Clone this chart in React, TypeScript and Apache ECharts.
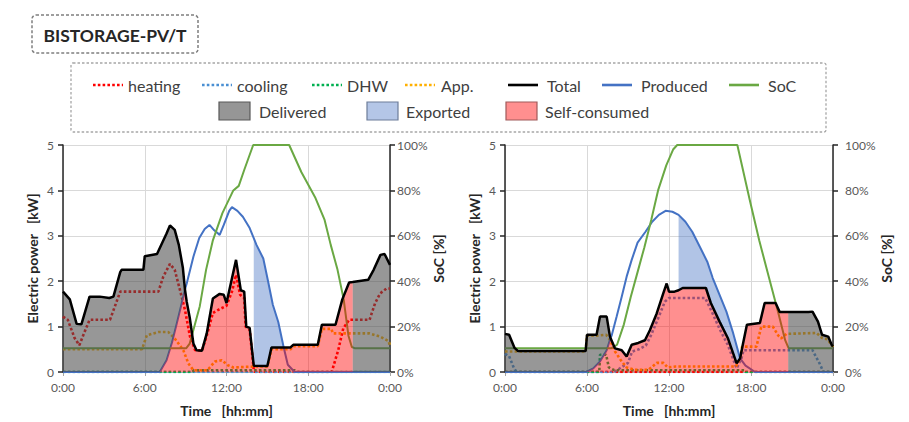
import React, { useEffect, useRef } from "react";
import * as echarts from "echarts";

type P = [number, number];

const FONT = "Lato, 'Liberation Sans', sans-serif";

// ---------- LEFT chart (hours, kW / %) ----------
const L_total: P[] = [
  [0, 1.77], [0.5, 1.6], [1.0, 1.06], [1.35, 1.05], [1.95, 1.66], [2.7, 1.66], [3.4, 1.63], [3.7, 1.66],
  [4.2, 2.2], [4.3, 2.25], [5.9, 2.25], [6.0, 2.55], [6.9, 2.6], [7.6, 3.05], [7.85, 3.23], [8.2, 3.13],
  [8.5, 2.8], [8.8, 2.29], [8.95, 1.82], [9.08, 1.55], [9.3, 1.2], [9.57, 0.63], [9.8, 0.48], [10.2, 0.47],
  [10.55, 0.85], [11.0, 1.62], [11.5, 1.72], [11.8, 1.7], [12.0, 1.52], [12.7, 2.47], [13.05, 1.8],
  [13.3, 1.77], [13.45, 1.0], [13.7, 0.97], [14.0, 0.14], [15.0, 0.13], [15.3, 0.54], [16.2, 0.54],
  [16.7, 0.54], [16.9, 0.6], [18.7, 0.6], [19.0, 1.04], [20.0, 1.04], [20.5, 1.6], [21.0, 1.97],
  [21.26, 1.98], [22.4, 2.03], [22.8, 2.25], [23.3, 2.58], [23.6, 2.6], [24, 2.36],
];
const L_produced: P[] = [
  [0, 0], [7.1, 0], [7.6, 0.26], [8.0, 0.65], [8.35, 1.07], [8.7, 1.5], [8.95, 1.82], [9.08, 1.95],
  [9.57, 2.54], [10.0, 2.95], [10.4, 3.15], [10.75, 3.24], [11.1, 3.12], [11.5, 3.02], [11.8, 3.24],
  [12.2, 3.55], [12.4, 3.63], [12.8, 3.55], [13.2, 3.42], [13.7, 3.17], [14.0, 2.95], [14.2, 2.8],
  [14.7, 2.5], [15.05, 2.0], [15.4, 1.48], [15.8, 1.1], [16.2, 0.54], [16.5, 0.16], [17.0, 0], [24, 0],
];
const L_soc: P[] = [
  [0, 10.5], [9.05, 10.5], [9.3, 12.5], [9.57, 18.5], [10.04, 29], [10.5, 45], [11.0, 58], [11.7, 70],
  [12.5, 80], [12.9, 82], [13.3, 89], [13.96, 100], [16.6, 100], [17.5, 88], [18.5, 77], [19.2, 67],
  [19.65, 56], [20.15, 45], [20.6, 32], [20.95, 16], [21.2, 11], [21.4, 10.5], [24, 10.5],
];
const L_heating: P[] = [
  [0, 1.22], [0.35, 1.15], [0.85, 0.75], [1.2, 0.59], [1.5, 0.82], [1.95, 1.15], [3.45, 1.15], [4.2, 1.77],
  [7.0, 1.77], [7.36, 2.1], [7.85, 2.38], [8.2, 2.25], [8.59, 1.8], [8.95, 1.37], [9.32, 0.78], [9.7, 0.48],
  [10.2, 0.47], [10.55, 0.8], [11.0, 1.3], [11.4, 1.37], [12.0, 1.46], [12.4, 1.77], [12.7, 2.14],
  [13.0, 1.7], [13.3, 1.63], [13.4, 1.0], [13.7, 0.93], [14.0, 0.05], [14.1, 0], [19.72, 0], [20.2, 0.48],
  [20.57, 0.96], [21.0, 1.15], [22.5, 1.15], [22.9, 1.51], [23.27, 1.73], [23.75, 1.84], [24, 1.84],
];
const L_cooling: P[] = [[0, 0], [24, 0]];
const L_dhw: P[] = [[0, 0], [9.5, 0], [9.6, 0.04], [17.0, 0.04], [17.1, 0], [24, 0]];
const L_app: P[] = [
  [0, 0.5], [5.8, 0.5], [6.15, 0.81], [7.0, 0.88], [7.73, 0.88], [8.2, 0.74], [8.83, 0.48], [9.2, 0.19],
  [9.57, 0.04], [10.6, 0.04], [11.15, 0.23], [11.65, 0.26], [12.1, 0.15], [12.5, 0.1], [14.0, 0.12],
  [15.0, 0.12], [15.3, 0.5], [16.7, 0.5], [16.9, 0.57], [18.7, 0.57], [19.0, 0.95], [19.7, 0.95],
  [19.8, 0.85], [22.5, 0.85], [23.27, 0.78], [23.9, 0.68], [24, 0.56],
];
// times where the energy flows change (pv start, pv = load, export start/end, battery empty)
const L_breaks = { pvStart: 7.1, cross: 8.95, exportStart: 14.0, exportEnd: 16.2, battEmpty: 21.26 };

// ---------- RIGHT chart ----------
const R_total: P[] = [
  [0, 0.84], [0.3, 0.82], [0.7, 0.53], [0.96, 0.46], [5.9, 0.46], [6.0, 0.82], [6.7, 0.82], [6.95, 1.22],
  [7.44, 1.22], [7.68, 0.78], [7.72, 0.75], [8.05, 0.52], [8.54, 0.48], [8.9, 0.34], [9.27, 0.6],
  [9.75, 0.64], [10.24, 0.7], [10.6, 0.92], [11.1, 1.29], [11.58, 1.73], [11.83, 1.95], [12.0, 1.77],
  [12.4, 1.77], [12.7, 1.8], [13.0, 1.85], [14.7, 1.85], [15.06, 1.52], [15.7, 1.11], [16.3, 0.75],
  [16.95, 0.19], [17.2, 0.3], [17.4, 0.6], [17.7, 1.04], [18.65, 1.08], [19.0, 1.52], [19.8, 1.52],
  [20.1, 1.32], [20.72, 1.32], [22.2, 1.32], [22.5, 1.33], [22.9, 1.11], [23.2, 0.82], [23.65, 0.78],
  [23.9, 0.6], [24, 0.56],
];
const R_produced: P[] = [
  [0, 0], [5.95, 0], [6.46, 0.08], [6.95, 0.23], [7.44, 0.48], [7.72, 0.75], [7.8, 0.8], [8.17, 1.22],
  [8.54, 1.66], [8.9, 2.1], [9.27, 2.47], [9.7, 2.85], [10.28, 3.09], [10.77, 3.31], [11.26, 3.46],
  [11.75, 3.55], [12.25, 3.53], [12.7, 3.46], [13.2, 3.31], [13.7, 3.09], [14.3, 2.73], [14.8, 2.43],
  [15.2, 2.07], [15.7, 1.7], [16.2, 1.33], [16.7, 0.85], [17.2, 0.3], [17.6, 0.14], [18.3, 0], [24, 0],
];
const R_soc: P[] = [
  [0, 10.5], [7.8, 10.5], [8.2, 12], [8.7, 21], [9.2, 33], [9.7, 44], [10.2, 55], [10.7, 67], [11.2, 80],
  [11.8, 91], [12.3, 98], [12.6, 100], [17.0, 100], [17.9, 76], [18.6, 58], [19.3, 42], [20.0, 26],
  [20.5, 14], [20.75, 10.5], [24, 10.5],
];
const R_heating: P[] = [[0, 0], [24, 0]];
const R_cooling: P[] = [
  [0, 0.4], [0.3, 0.35], [0.7, 0.05], [0.96, 0], [8.0, 0], [8.5, 0.1], [9.0, 0.2], [9.3, 0.45], [9.8, 0.5],
  [10.3, 0.58], [10.7, 0.82], [11.2, 1.18], [11.7, 1.55], [12.0, 1.63], [14.65, 1.63], [15.1, 1.35],
  [15.7, 0.95], [16.3, 0.6], [16.95, 0.08], [17.3, 0.3], [17.45, 0.48], [22.5, 0.48], [23.0, 0.2], [23.3, 0],
  [24, 0],
];
const R_dhw: P[] = [[0, 0], [6.9, 0], [6.95, 0.38], [7.4, 0.38], [7.6, 0.1], [8.0, 0.04], [17.5, 0.04], [17.6, 0], [24, 0]];
const R_app: P[] = [
  [0, 0.45], [5.9, 0.45], [6.0, 0.8], [6.7, 0.8], [7.4, 0.82], [7.7, 0.7], [8.05, 0.45], [8.5, 0.25],
  [8.9, 0.1], [9.5, 0.05], [10.5, 0.05], [10.9, 0.15], [11.1, 0.2], [11.6, 0.2], [11.9, 0.1], [12.5, 0.12],
  [16.9, 0.12], [17.2, 0.3], [17.35, 0.56], [18.4, 0.56], [18.75, 1.0], [19.6, 1.0], [20.0, 0.8],
  [20.2, 0.74], [20.6, 0.84], [22.8, 0.86], [23.2, 0.75], [23.6, 0.72], [24, 0.55],
];
const R_breaks = { pvStart: 5.95, cross: 7.72, exportStart: 12.7, exportEnd: 17.2, battEmpty: 20.72 };

const X_TICK_INTERVAL = 6;
const POWER_MAX = 5;
const SOC_MAX = 100;

// ---------- styles ----------
const C_HEAT = "#FF0000";
const C_COOL = "#4A8FD3";
const C_DHW = "#00B050";
const C_APP = "#FFB000";
const C_TOTAL = "#000000";
const C_PROD = "#4472C4";
const C_SOC = "#6AA843";
const F_DELIV = "rgba(75,75,75,0.58)";
const F_EXP = "rgba(68,114,196,0.42)";
const F_SELF = "rgba(255,0,0,0.44)";
const SP = "\u00A0\u00A0\u00A0";

const within = (arr: P[], a: number, b: number) => arr.filter((p) => p[0] >= a && p[0] <= b);

function bands(total: P[], produced: P[], br: typeof L_breaks) {
  const self: P[] = [
    [br.pvStart, 0],
    ...within(produced, br.pvStart, br.cross),
    ...within(total, br.cross, br.battEmpty).filter((p) => p[0] > br.cross),
    [br.battEmpty, 0],
  ];
  const deliv1: P[] = [
    ...within(total, 0, br.cross),
    ...within(produced, br.pvStart, br.cross).reverse(),
    [0, 0],
  ];
  const deliv2: P[] = [...within(total, br.battEmpty, 24), [24, 0], [br.battEmpty, 0]];
  const exported: P[] = [
    ...within(produced, br.exportStart, br.exportEnd),
    ...within(total, br.exportStart, br.exportEnd).reverse(),
  ];
  return { self, deliv1, deliv2, exported };
}

function polySeries(points: P[], fill: string, xi: number) {
  return {
    type: "custom",
    coordinateSystem: "cartesian2d",
    xAxisIndex: xi,
    yAxisIndex: xi * 2,
    z: 3,
    silent: true,
    data: [points[0]],
    renderItem: (_p: any, api: any) => ({
      type: "polygon",
      shape: { points: points.map((q) => api.coord(q)) },
      style: { fill, stroke: null },
    }),
  };
}

function lineSeries(name: string, data: P[], xi: number, yi: number, color: string, width: number, dotted: boolean, z: number) {
  return {
    name,
    type: "line",
    xAxisIndex: xi,
    yAxisIndex: yi,
    data,
    showSymbol: false,
    symbol: "none",
    silent: true,
    z,
    lineStyle: { color, width, type: dotted ? [2.6, 2.2] : "solid", cap: "butt" },
  };
}

function chartSeries(d: any, xi: number) {
  const b = bands(d.total, d.produced, d.breaks);
  return [
    lineSeries("heating", d.heating, xi, xi * 2, C_HEAT, 2.6, true, 2),
    lineSeries("cooling", d.cooling, xi, xi * 2, C_COOL, 2.6, true, 2),
    lineSeries("DHW", d.dhw, xi, xi * 2, C_DHW, 2.6, true, 2),
    lineSeries("App.", d.app, xi, xi * 2, C_APP, 2.6, true, 2),
    lineSeries("Produced", d.produced, xi, xi * 2, C_PROD, 2, false, 2),
    lineSeries("SoC", d.soc, xi, xi * 2 + 1, C_SOC, 2, false, 2),
    polySeries(b.deliv1, F_DELIV, xi),
    polySeries(b.deliv2, F_DELIV, xi),
    polySeries(b.self, F_SELF, xi),
    polySeries(b.exported, F_EXP, xi),
    lineSeries("Total", d.total, xi, xi * 2, C_TOTAL, 2.5, false, 4),
  ];
}

const axisNameStyle = { fontWeight: "bold", fontSize: 14, color: "#262626", fontFamily: FONT };
const axisLabelStyle = { color: "#595959", fontSize: 12, fontFamily: FONT };

function xAxis(gi: number) {
  return {
    type: "value",
    gridIndex: gi,
    min: 0,
    max: 24,
    interval: X_TICK_INTERVAL,
    axisLine: { show: true, onZero: false, lineStyle: { color: "#a6a6a6", width: 1 } },
    axisTick: { show: true, length: 4, lineStyle: { color: "#a6a6a6" } },
    axisLabel: { ...axisLabelStyle, margin: 9, formatter: (v: number) => `${v % 24}:00` },
    splitLine: { show: true, lineStyle: { color: "#d9d9d9", width: 1 } },
    name: `Time${SP}[hh:mm]`,
    nameLocation: "middle",
    nameGap: 31,
    nameTextStyle: axisNameStyle,
  };
}

function yAxes(gi: number, socMargin: number, socGap: number) {
  return [
    {
      type: "value",
      gridIndex: gi,
      position: "left",
      min: 0,
      max: POWER_MAX,
      interval: 1,
      axisLine: { show: true, lineStyle: { color: "#262626", width: 1.5 } },
      axisTick: { show: true, length: 5, lineStyle: { color: "#262626", width: 1.5 } },
      axisLabel: { ...axisLabelStyle, margin: 9 },
      splitLine: { show: true, lineStyle: { color: "#d9d9d9", width: 1 } },
      name: `Electric power${SP}[kW]`,
      nameLocation: "middle",
      nameGap: 24,
      nameRotate: 90,
      nameTextStyle: axisNameStyle,
    },
    {
      type: "value",
      gridIndex: gi,
      position: "right",
      min: 0,
      max: SOC_MAX,
      interval: 20,
      axisLine: { show: true, lineStyle: { color: "#262626", width: 1.5 } },
      axisTick: { show: true, length: 5, lineStyle: { color: "#262626", width: 1.5 } },
      axisLabel: { ...axisLabelStyle, margin: socMargin, formatter: "{value}%" },
      splitLine: { show: false },
      name: "SoC [%]",
      nameLocation: "middle",
      nameGap: socGap,
      nameRotate: 90,
      nameTextStyle: axisNameStyle,
    },
  ];
}

const LEGEND_LINES = [
  { name: "heating", color: C_HEAT, dotted: true, x: 93, tx: 128 },
  { name: "cooling", color: C_COOL, dotted: true, x: 202, tx: 237 },
  { name: "DHW", color: C_DHW, dotted: true, x: 312, tx: 347 },
  { name: "App.", color: C_APP, dotted: true, x: 405, tx: 441 },
  { name: "Total", color: C_TOTAL, dotted: false, x: 508, tx: 547 },
  { name: "Produced", color: C_PROD, dotted: false, x: 602, tx: 641 },
  { name: "SoC", color: C_SOC, dotted: false, x: 729, tx: 768 },
];
const LEGEND_BOXES = [
  { name: "Delivered", fill: "#969696", stroke: "#595959", x: 219, tx: 259 },
  { name: "Exported", fill: "#b4c6e7", stroke: "#6d7d99", x: 367, tx: 406 },
  { name: "Self-consumed", fill: "#ff8f8f", stroke: "#a05a5a", x: 506, tx: 545 },
];

function buildGraphic() {
  const g: any[] = [
    {
      type: "rect",
      shape: { x: 32, y: 15, width: 166, height: 38, r: 4 },
      style: { fill: "#fff", stroke: "#7f7f7f", lineWidth: 1.5, lineDash: [3, 2] },
    },
    {
      type: "text",
      style: { text: "BISTORAGE-PV/T", x: 115, y: 35, align: "center", verticalAlign: "middle", font: `bold 17.5px ${FONT}`, fill: "#262626" },
    },
    {
      type: "rect",
      shape: { x: 71, y: 63, width: 755, height: 69, r: 2 },
      style: { fill: "#fff", stroke: "#a6a6a6", lineWidth: 1.3, lineDash: [2.5, 2] },
    },
  ];
  LEGEND_LINES.forEach((l) => {
    g.push({
      type: "line",
      shape: { x1: l.x, y1: 85, x2: l.x + 30, y2: 85 },
      style: { stroke: l.color, lineWidth: 2.6, lineDash: l.dotted ? [2.6, 2.2] : null },
    });
    g.push({
      type: "text",
      style: { text: l.name, x: l.tx, y: 85, align: "left", verticalAlign: "middle", font: `16px ${FONT}`, fill: "#404040" },
    });
  });
  LEGEND_BOXES.forEach((b) => {
    g.push({
      type: "rect",
      shape: { x: b.x, y: 102, width: 31, height: 18 },
      style: { fill: b.fill, stroke: b.stroke, lineWidth: 1.2 },
    });
    g.push({
      type: "text",
      style: { text: b.name, x: b.tx, y: 111, align: "left", verticalAlign: "middle", font: `16px ${FONT}`, fill: "#404040" },
    });
  });
  return g;
}

export default function App() {
  const ref = useRef<HTMLDivElement>(null);
  useEffect(() => {
    if (!ref.current) return;
    const chart = echarts.init(ref.current, undefined, { renderer: "svg" });
    const left = { total: L_total, produced: L_produced, soc: L_soc, heating: L_heating, cooling: L_cooling, dhw: L_dhw, app: L_app, breaks: L_breaks };
    const right = { total: R_total, produced: R_produced, soc: R_soc, heating: R_heating, cooling: R_cooling, dhw: R_dhw, app: R_app, breaks: R_breaks };
    chart.setOption({
      animation: false,
      backgroundColor: "#ffffff",
      textStyle: { fontFamily: FONT },
      grid: [
        { left: 63, top: 145, width: 327, height: 227, containLabel: false },
        { left: 505, top: 145, width: 328, height: 227, containLabel: false },
      ],
      xAxis: [xAxis(0), xAxis(1)],
      yAxis: [...yAxes(0, 7, 31), ...yAxes(1, 12, 44)],
      series: [...chartSeries(left, 0), ...chartSeries(right, 1)],
      graphic: buildGraphic(),
    });
    return () => chart.dispose();
  }, []);
  return <div ref={ref} style={{ position: "absolute", left: 0, top: 0, width: 909, height: 422 }} />;
}
